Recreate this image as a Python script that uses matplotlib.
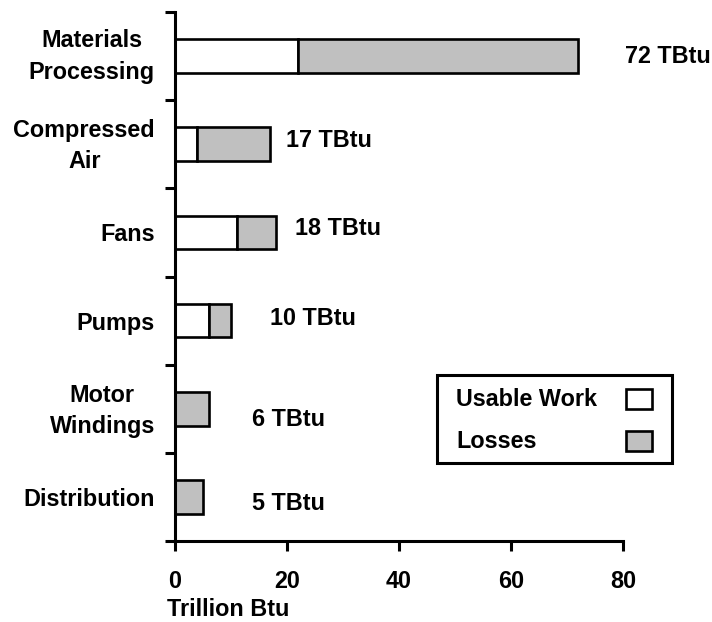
import matplotlib
matplotlib.use("Agg")
import matplotlib.pyplot as plt
from matplotlib.patches import Rectangle
import matplotlib.transforms as mtransforms
import numpy as np

plt.rcParams['font.family'] = ['Liberation Sans', 'DejaVu Sans']
plt.rcParams['font.weight'] = 'bold'

categories = ["Materials\nProcessing", "Compressed\nAir", "Fans", "Pumps",
              "Motor\nWindings", "Distribution"]
usable_work = [22, 4, 11, 6, 0, 0]
losses = [50, 13, 7, 4, 6, 5]
totals = [72, 17, 18, 10, 6, 5]
total_labels = ["72 TBtu", "17 TBtu", "18 TBtu", "10 TBtu", "6 TBtu", "5 TBtu"]
series_names = ["Usable Work", "Losses"]
xticks = [0, 20, 40, 60, 80]
xlabel = "Trillion Btu"

# label placement (styling)
label_x = [80.4, 19.8, 21.4, 17.0, 13.75, 13.75]
label_dy = [0.0, -0.04, -0.05, -0.02, 0.12, 0.07]
cat_dy = [0.005, 0.015, 0.025, 0.03, 0.03, 0.025]

FS = 16.8
grey = "#c0c0c0"
W, H = 712, 622

fig = plt.figure(figsize=(W/100, H/100), dpi=100)
AX_L, AX_R, AX_T, AX_B = 175, 623, 12, 541
ax = fig.add_axes([AX_L/W, 1-AX_B/H, (AX_R-AX_L)/W, (AX_B-AX_T)/H])

y = np.arange(len(categories))
h = 0.38
ax.barh(y, usable_work, height=h, color="white", edgecolor="black", linewidth=1.9)
ax.barh(y, losses, left=usable_work, height=h, color=grey, edgecolor="black", linewidth=1.9)

ax.set_ylim(len(categories) - 0.5, -0.5)
ax.set_xlim(0, 80)

for s in ["top", "right"]:
    ax.spines[s].set_visible(False)
for s in ["left", "bottom"]:
    ax.spines[s].set_linewidth(2.2)

ax.set_yticks(np.arange(len(categories) + 1) - 0.5)
ax.set_yticklabels([])
ax.tick_params(axis='y', which='major', length=7, width=2.2, direction='out')

# category labels, right-aligned 20 px left of the y axis
cat_tr = ax.get_yaxis_transform() + mtransforms.ScaledTranslation(-20/100, 0, fig.dpi_scale_trans)
for i, (cat, dy) in enumerate(zip(categories, cat_dy)):
    ax.text(0, i + dy, cat, transform=cat_tr, fontsize=FS, fontweight='bold',
            ha='right', va='center', multialignment='center', linespacing=1.45,
            clip_on=False)

ax.set_xticks(xticks)
ax.set_xticklabels([str(v) for v in xticks], fontsize=FS, fontweight='bold')
ax.tick_params(axis='x', length=7, width=2.2, direction='out', pad=14)

for i, (lx, dy, lab) in enumerate(zip(label_x, label_dy, total_labels)):
    ax.text(lx, i + dy, lab, fontsize=FS, fontweight='bold', ha='left', va='center',
            clip_on=False)

ax.text(-1.5, 1.0 - 609/H, xlabel, fontsize=FS, fontweight='bold', ha='left', va='center',
        transform=mtransforms.blended_transform_factory(ax.transData, fig.transFigure))

# legend drawn in figure pixel-fraction coordinates
def fx(px):
    return px / W

def fy(py):
    return 1 - py / H

frame = Rectangle((fx(437), fy(463)), fx(672) - fx(437), fy(375) - fy(463),
                  transform=fig.transFigure, facecolor="white", edgecolor="black",
                  linewidth=2.2, zorder=5)
fig.patches.append(frame)
row_y = [399, 441]
colors = ["white", grey]
for name, ry, c in zip(series_names, row_y, colors):
    fig.text(fx(456), fy(ry), name, fontsize=FS, fontweight='bold', ha='left',
             va='center', zorder=6)
    fig.patches.append(Rectangle((fx(626), fy(ry + 10)), fx(652) - fx(626), fy(ry - 10) - fy(ry + 10),
                                 transform=fig.transFigure, facecolor=c,
                                 edgecolor="black", linewidth=1.9, zorder=6))

fig.savefig("out.png", dpi=100)
